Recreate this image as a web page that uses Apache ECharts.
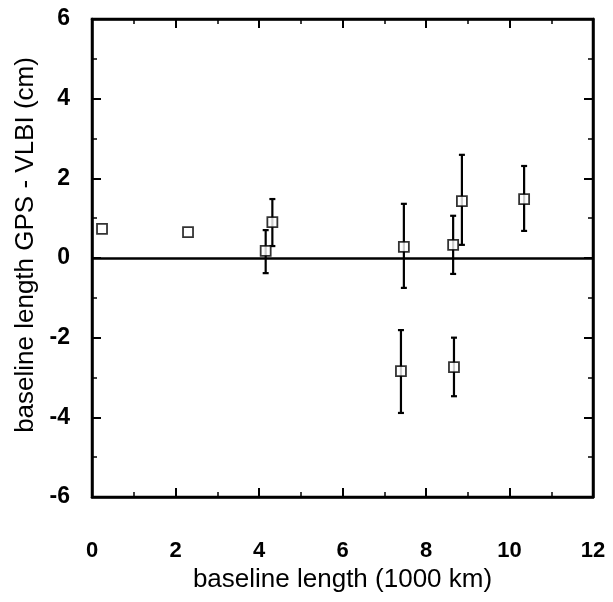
<!DOCTYPE html>
<html><head><meta charset="utf-8">
<script src="https://cdn.jsdelivr.net/npm/echarts@6/dist/echarts.min.js"></script>
<style>html,body{margin:0;padding:0;background:#fff}#c{width:613px;height:602px}</style>
</head><body><div id="c"></div>
<script>
const baselineLength = [0.24, 2.3, 4.16, 4.32, 7.47, 8.65, 8.86, 10.35, 7.4, 8.67];
const diff =           [0.73, 0.65, 0.18, 0.9, 0.28, 0.33, 1.43, 1.48, -2.84, -2.74];
const errLow =         [null, null, -0.38, 0.3, -0.75, -0.4, 0.33, 0.68, -3.89, -3.47];
const errHigh =        [null, null, 0.7, 1.48, 1.36, 1.06, 2.59, 2.31, -1.81, -2.0];
const xTicks = [0, 2, 4, 6, 8, 10, 12];
const yTicks = [-6, -4, -2, 0, 2, 4, 6];

const pts = baselineLength.map((x, i) => [x, diff[i]]);
const errs = baselineLength.map((x, i) => [x, errLow[i], errHigh[i]]).filter(e => e[1] !== null);

const fam = 'Liberation Sans, Arial, sans-serif';
const xFont = {color:'#000', fontFamily:fam, fontSize:22, fontWeight:'bold'};
const yFont = {color:'#000', fontFamily:fam, fontSize:23, fontWeight:'bold'};
const titleFont = {color:'#000', fontFamily:fam, fontSize:26};
const axLine = {show:true, onZero:false, lineStyle:{color:'#000', width:2.5}};
const tick = {show:true, inside:true, length:9, lineStyle:{color:'#000', width:2}};
const minor = {show:true, splitNumber:2, length:5, lineStyle:{color:'#000', width:1.5}};

const chart = echarts.init(document.getElementById('c'), null, {renderer:'canvas'});
chart.setOption({
  animation:false,
  backgroundColor:'#fff',
  grid:{left:92, right:20, top:19, bottom:105, show:true, borderColor:'#000', borderWidth:2.5},
  xAxis:[{
    type:'value', min:0, max:12, interval:2, position:'bottom',
    name:'baseline length (1000 km)', nameLocation:'middle', nameGap:68,
    nameTextStyle:titleFont,
    axisLine:axLine, axisTick:tick, minorTick:minor,
    axisLabel:Object.assign({}, xFont, {margin:43, formatter:v => xTicks.includes(v) ? String(v) : ''}),
    splitLine:{show:false}
  },{
    type:'value', min:0, max:12, interval:2, position:'top',
    axisLine:axLine, axisTick:tick, minorTick:minor,
    axisLabel:{show:false}, splitLine:{show:false}
  }],
  yAxis:[{
    type:'value', min:-6, max:6, interval:2, position:'left',
    name:'baseline length GPS - VLBI (cm)', nameLocation:'middle', nameGap:50,
    nameTextStyle:Object.assign({}, titleFont, {padding:[0,0,0,26]}),
    axisLine:axLine, axisTick:tick, minorTick:minor,
    axisLabel:Object.assign({}, yFont, {margin:22, formatter:v => yTicks.includes(v) ? String(v) : ''}),
    splitLine:{show:false}
  },{
    type:'value', min:-6, max:6, interval:2, position:'right',
    axisLine:axLine, axisTick:tick, minorTick:minor,
    axisLabel:{show:false}, splitLine:{show:false}
  }],
  series:[
    {
      type:'custom', xAxisIndex:0, yAxisIndex:0, data:errs, z:2,
      renderItem:function(params, api){
        const x = api.value(0);
        const lo = api.coord([x, api.value(1)]);
        const hi = api.coord([x, api.value(2)]);
        const w = 3;
        const st = {stroke:'#000', lineWidth:2.2};
        return {type:'group', children:[
          {type:'line', shape:{x1:lo[0], y1:lo[1], x2:hi[0], y2:hi[1]}, style:st},
          {type:'line', shape:{x1:lo[0]-w, y1:lo[1], x2:lo[0]+w, y2:lo[1]}, style:st},
          {type:'line', shape:{x1:hi[0]-w, y1:hi[1], x2:hi[0]+w, y2:hi[1]}, style:st}
        ]};
      }
    },
    {
      type:'scatter', xAxisIndex:0, yAxisIndex:0, data:pts, z:3,
      symbol:'rect', symbolSize:10,
      itemStyle:{color:'#fff', borderColor:'#000', borderWidth:1.8},
      markLine:{
        silent:true, symbol:['none','none'], label:{show:false},
        lineStyle:{color:'#000', width:2.5, type:'solid'},
        data:[{yAxis:0}]
      }
    }
  ]
});
</script></body></html>
